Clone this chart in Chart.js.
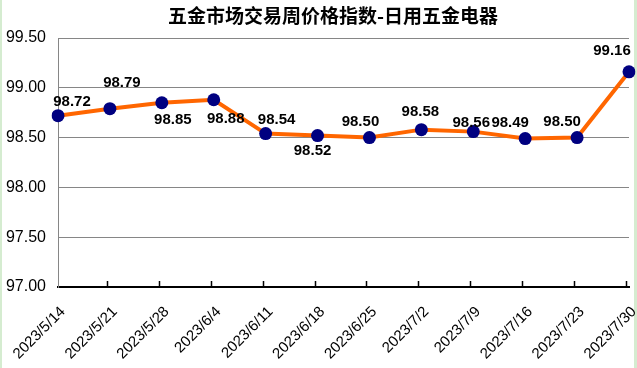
<!DOCTYPE html>
<html>
<head>
<meta charset="utf-8">
<script src="https://cdn.jsdelivr.net/npm/chart.js@4/dist/chart.umd.min.js"></script>
<style>
  body { margin: 0; background: #fff; }
  canvas { display: block; }
</style>
</head>
<body>
<canvas id="priceChart" width="637" height="368"></canvas>
<script>
const chartTitle = '五金市场交易周价格指数-日用五金电器';
const weeks = ['2023/5/14', '2023/5/21', '2023/5/28', '2023/6/4', '2023/6/11', '2023/6/18',
               '2023/6/25', '2023/7/2', '2023/7/9', '2023/7/16', '2023/7/23', '2023/7/30'];
const indexValues = [98.72, 98.79, 98.85, 98.88, 98.54, 98.52, 98.50, 98.58, 98.56, 98.49, 98.50, 99.16];
const yTicks = [97.00, 97.50, 98.00, 98.50, 99.00, 99.50];

// where each value label sits relative to its point (styling only)
const labelDx = [14, 12, 11, 12, 11, -5, -9, -1, -2, -15, -15, -17];
const labelDy = [-14, -26, 17, 19, -14, 15, -16, -18, -9, -16, -16, -21];

const pageBack = {
    id: 'pageBack',
    beforeDraw(chart) {
        const { ctx, width, height } = chart;
        ctx.save();
        ctx.fillStyle = '#ffffff';
        ctx.fillRect(0, 0, width, height);
        ctx.fillStyle = '#d5ecd0';
        ctx.fillRect(0, 0, 2, height);
        ctx.fillRect(width - 3, 0, 3, height);
        // title
        ctx.fillStyle = '#000';
        ctx.font = 'bold 19px "Noto Sans CJK SC", sans-serif';
        ctx.textAlign = 'center';
        ctx.textBaseline = 'middle';
        ctx.fillText(chartTitle, 333, 16);
        ctx.restore();
    }
};

const valueLabels = {
    id: 'valueLabels',
    afterDatasetsDraw(chart) {
        const { ctx } = chart;
        const meta = chart.getDatasetMeta(0);
        ctx.save();
        ctx.font = 'bold 15px "Liberation Sans", Arial, sans-serif';
        ctx.textAlign = 'center';
        ctx.textBaseline = 'middle';
        ctx.fillStyle = '#000';
        meta.data.forEach((pt, i) => {
            ctx.fillText(indexValues[i].toFixed(2), pt.x + labelDx[i], pt.y + labelDy[i]);
        });
        ctx.restore();
    }
};

// tick marks pointing up into the plot, like the original
const innerTicks = {
    id: 'innerTicks',
    afterDraw(chart) {
        const { ctx, chartArea } = chart;
        const xs = chart.scales.x;
        ctx.save();
        ctx.strokeStyle = '#000';
        ctx.lineWidth = 1.5;
        ctx.beginPath();
        for (let i = 1; i < weeks.length; i++) {
            const x = Math.round(xs.getPixelForTick(i)) - 2.5;
            ctx.moveTo(x, chartArea.bottom);
            ctx.lineTo(x, chartArea.bottom - 6);
        }
        ctx.stroke();
        ctx.restore();
    }
};

const ctx = document.getElementById('priceChart').getContext('2d');
const priceChart = new Chart(ctx, {
    type: 'line',
    data: {
        labels: weeks,
        datasets: [{
            data: indexValues,
            borderColor: '#ff6600',
            borderWidth: 4,
            pointBackgroundColor: '#000080',
            pointBorderWidth: 0,
            pointRadius: 6.5,
            tension: 0
        }]
    },
    options: {
        responsive: false,
        animation: false,
        layout: { padding: { left: 0, right: 8, top: 38, bottom: 0 } },
        plugins: {
            legend: { display: false },
            tooltip: { enabled: false },
            title: { display: false }
        },
        scales: {
            x: {
                offset: false,
                grid: { display: false, drawTicks: false },
                border: { display: true, color: '#000', width: 2 },
                ticks: {
                    color: '#000',
                    font: { family: '"Liberation Sans", Arial, sans-serif', size: 15 },
                    minRotation: 45,
                    maxRotation: 45,
                    padding: 16,
                    labelOffset: 5,
                    autoSkip: false
                },
                afterFit(scale) {
                    scale.height = 81;
                    scale.paddingLeft = 0;
                    scale.paddingRight = 0;
                }
            },
            y: {
                min: 97,
                max: 99.5,
                afterBuildTicks(scale) { scale.ticks = yTicks.map(v => ({ value: v })); },
                grid: { color: '#868686', lineWidth: 1, drawTicks: false },
                border: { display: true, color: '#868686', width: 1 },
                ticks: {
                    color: '#000',
                    font: { family: '"Liberation Sans", Arial, sans-serif', size: 16 },
                    padding: 12,
                    callback: (v) => Number(v).toFixed(2)
                },
                afterFit(scale) {
                    scale.width = 58;
                    scale.paddingTop = 0;
                    scale.paddingBottom = 0;
                }
            }
        }
    },
    plugins: [pageBack, valueLabels, innerTicks]
});
</script>
</body>
</html>
